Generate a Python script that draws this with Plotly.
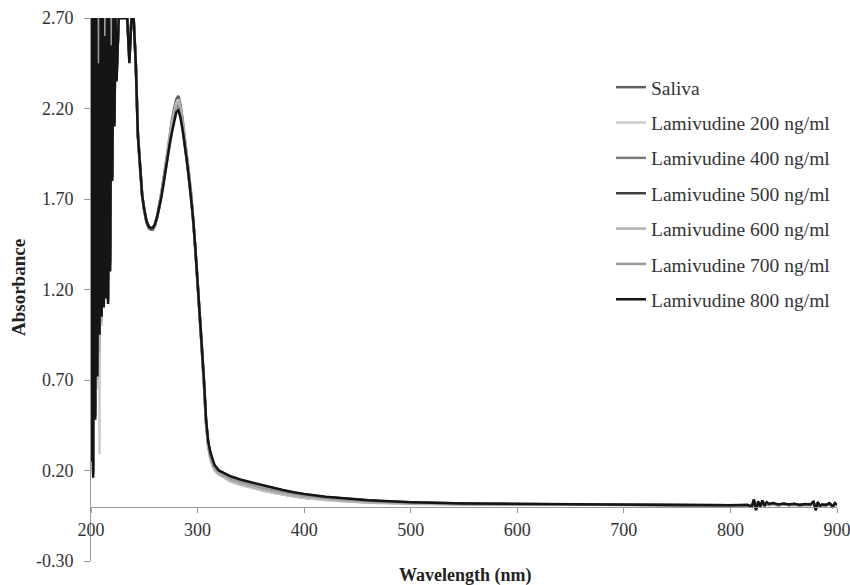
import plotly.graph_objects as go

# ---------------- data ----------------
wavelength = (list(range(200, 225)) +
              [226, 228, 230, 232, 234, 236, 238, 240] +
              list(range(242, 321, 2)) +
              [325, 330, 340, 350, 360, 370, 380, 390, 400, 420, 440, 460, 480, 500] +
              [550, 600, 650, 700, 750, 800] +
              [810, 816, 820, 822, 824, 826, 828, 830, 832, 834, 836, 840, 845, 850,
               855, 860, 865, 870, 875, 878, 880, 882, 884, 886, 890, 893, 896, 898, 900])

saliva = ([0.30, 2.70, 0.20, 2.60, 0.55, 2.70, 0.80, 2.70, 1.00, 2.50, 1.10, 2.70, 1.15, 2.70, 1.20, 2.65, 1.25, 2.70, 1.50, 2.70, 1.90, 2.60, 2.20, 2.70, 2.40] +
          [2.70, 2.70, 2.70, 2.70, 2.70, 2.50, 2.70, 2.70] +
          [2.47, 2.07, 1.86, 1.72, 1.63, 1.57, 1.54, 1.53, 1.53, 1.55,
           1.60, 1.66, 1.73, 1.81, 1.90, 1.99, 2.07, 2.14, 2.20, 2.25,
           2.27, 2.22, 2.14, 2.05, 1.95, 1.84, 1.73, 1.59, 1.42, 1.25,
           1.07, 0.88, 0.68, 0.46, 0.34, 0.27, 0.23, 0.205, 0.19, 0.18] +
          [0.165, 0.145, 0.125, 0.108, 0.093, 0.080, 0.068, 0.058, 0.050, 0.038, 0.030, 0.024, 0.020, 0.017] +
          [0.014, 0.012, 0.010, 0.009, 0.008, 0.007] +
          [0.007, 0.008, 0.004, 0.020, 0.000, 0.018, 0.004, 0.020, 0.006, 0.014, 0.010, 0.012, 0.008, 0.012,
           0.009, 0.011, 0.008, 0.010, 0.009, 0.018, 0.000, 0.016, 0.006, 0.009, 0.008, 0.013, 0.004, 0.012, 0.008])

lam200 = ([0.35, 2.70, 0.30, 2.70, 0.60, 2.70, 0.65, 2.70, 0.29, 2.70, 1.00, 2.70, 1.20, 2.70, 1.30, 2.70, 1.40, 2.70, 1.60, 2.70, 2.00, 2.70, 2.20, 2.70, 2.50] +
          [2.70, 2.70, 2.70, 2.70, 2.70, 2.55, 2.70, 2.70] +
          [2.46, 2.06, 1.86, 1.72, 1.64, 1.58, 1.55, 1.54, 1.54, 1.56,
           1.61, 1.66, 1.73, 1.80, 1.89, 1.97, 2.05, 2.12, 2.18, 2.23,
           2.25, 2.20, 2.12, 2.03, 1.93, 1.83, 1.72, 1.58, 1.42, 1.24,
           1.06, 0.87, 0.67, 0.45, 0.33, 0.27, 0.23, 0.20, 0.185, 0.175] +
          [0.160, 0.140, 0.120, 0.104, 0.090, 0.077, 0.066, 0.056, 0.048, 0.036, 0.028, 0.022, 0.018, 0.015] +
          [0.013, 0.011, 0.010, 0.009, 0.008, 0.007] +
          [0.007, 0.009, 0.003, 0.022, -0.004, 0.016, 0.003, 0.022, 0.005, 0.016, 0.010, 0.013, 0.009, 0.013,
           0.008, 0.012, 0.009, 0.011, 0.009, 0.020, -0.004, 0.018, 0.005, 0.010, 0.008, 0.014, 0.003, 0.013, 0.008])

lam400 = ([0.28, 2.70, 0.22, 2.70, 0.52, 2.55, 0.78, 2.70, 0.98, 2.70, 1.08, 2.60, 1.12, 2.70, 1.18, 2.70, 1.15, 2.70, 1.40, 2.70, 1.85, 2.70, 2.15, 2.70, 2.38] +
          [2.70, 2.70, 2.70, 2.70, 2.70, 2.48, 2.70, 2.70] +
          [2.44, 2.05, 1.85, 1.72, 1.64, 1.58, 1.55, 1.54, 1.54, 1.56,
           1.60, 1.66, 1.72, 1.80, 1.88, 1.96, 2.04, 2.10, 2.16, 2.21,
           2.23, 2.18, 2.11, 2.02, 1.92, 1.82, 1.71, 1.58, 1.42, 1.24,
           1.07, 0.88, 0.68, 0.46, 0.34, 0.28, 0.24, 0.21, 0.195, 0.185] +
          [0.170, 0.152, 0.132, 0.115, 0.100, 0.087, 0.075, 0.065, 0.056, 0.043, 0.034, 0.027, 0.022, 0.019] +
          [0.015, 0.013, 0.011, 0.009, 0.009, 0.008] +
          [0.008, 0.009, 0.002, 0.028, -0.008, 0.022, 0.002, 0.026, 0.005, 0.018, 0.012, 0.015, 0.010, 0.014,
           0.010, 0.013, 0.009, 0.012, 0.010, 0.022, -0.008, 0.020, 0.005, 0.011, 0.009, 0.016, 0.002, 0.015, 0.009])

lam500 = ([0.26, 2.70, 0.18, 2.70, 0.50, 2.70, 0.75, 2.50, 0.96, 2.70, 1.06, 2.70, 1.12, 2.65, 1.16, 2.70, 1.14, 2.70, 1.35, 2.60, 1.82, 2.70, 2.12, 2.70, 2.36] +
          [2.70, 2.70, 2.70, 2.70, 2.70, 2.46, 2.70, 2.70] +
          [2.45, 2.05, 1.85, 1.72, 1.64, 1.58, 1.55, 1.54, 1.54, 1.56,
           1.60, 1.65, 1.72, 1.79, 1.87, 1.95, 2.03, 2.09, 2.15, 2.20,
           2.22, 2.17, 2.10, 2.01, 1.92, 1.82, 1.71, 1.58, 1.42, 1.25,
           1.08, 0.89, 0.69, 0.47, 0.35, 0.29, 0.25, 0.225, 0.21, 0.20] +
          [0.183, 0.168, 0.148, 0.132, 0.117, 0.103, 0.090, 0.078, 0.068, 0.053, 0.043, 0.035, 0.029, 0.024] +
          [0.017, 0.014, 0.012, 0.010, 0.009, 0.008] +
          [0.008, 0.010, 0.001, 0.034, -0.014, 0.026, 0.001, 0.030, 0.005, 0.022, 0.014, 0.018, 0.011, 0.016,
           0.011, 0.015, 0.010, 0.014, 0.011, 0.026, -0.014, 0.022, 0.005, 0.012, 0.010, 0.018, 0.001, 0.018, 0.010])

lam600 = ([0.33, 2.70, 0.26, 2.65, 0.58, 2.70, 0.70, 2.70, 0.85, 2.70, 1.02, 2.70, 1.18, 2.70, 1.25, 2.70, 1.30, 2.65, 1.55, 2.70, 1.95, 2.70, 2.25, 2.70, 2.45] +
          [2.70, 2.70, 2.70, 2.70, 2.70, 2.52, 2.70, 2.70] +
          [2.46, 2.06, 1.85, 1.72, 1.63, 1.58, 1.55, 1.54, 1.54, 1.56,
           1.60, 1.66, 1.73, 1.80, 1.88, 1.97, 2.05, 2.11, 2.17, 2.22,
           2.24, 2.19, 2.12, 2.03, 1.93, 1.83, 1.72, 1.58, 1.42, 1.24,
           1.06, 0.87, 0.67, 0.45, 0.33, 0.27, 0.23, 0.205, 0.19, 0.18] +
          [0.165, 0.147, 0.127, 0.110, 0.095, 0.082, 0.070, 0.060, 0.052, 0.040, 0.031, 0.025, 0.021, 0.018] +
          [0.014, 0.012, 0.010, 0.009, 0.008, 0.007] +
          [0.007, 0.008, 0.003, 0.024, -0.006, 0.020, 0.003, 0.024, 0.005, 0.017, 0.011, 0.014, 0.009, 0.013,
           0.009, 0.012, 0.008, 0.011, 0.009, 0.021, -0.006, 0.019, 0.005, 0.010, 0.008, 0.015, 0.003, 0.014, 0.008])

lam700 = ([0.27, 2.70, 0.19, 2.70, 0.50, 2.70, 0.74, 2.70, 0.97, 2.55, 1.07, 2.70, 1.11, 2.70, 1.17, 2.60, 1.13, 2.70, 1.33, 2.70, 1.83, 2.65, 2.13, 2.70, 2.37] +
          [2.70, 2.70, 2.70, 2.70, 2.70, 2.47, 2.70, 2.70] +
          [2.45, 2.05, 1.85, 1.72, 1.64, 1.58, 1.55, 1.54, 1.54, 1.56,
           1.60, 1.65, 1.72, 1.79, 1.87, 1.95, 2.02, 2.08, 2.14, 2.19,
           2.21, 2.16, 2.09, 2.01, 1.91, 1.81, 1.71, 1.58, 1.42, 1.25,
           1.07, 0.89, 0.69, 0.47, 0.35, 0.28, 0.24, 0.215, 0.20, 0.19] +
          [0.175, 0.158, 0.138, 0.122, 0.107, 0.094, 0.082, 0.071, 0.062, 0.048, 0.038, 0.031, 0.026, 0.022] +
          [0.016, 0.013, 0.011, 0.010, 0.009, 0.008] +
          [0.008, 0.009, 0.001, 0.030, -0.010, 0.024, 0.001, 0.028, 0.005, 0.020, 0.013, 0.016, 0.010, 0.015,
           0.010, 0.014, 0.009, 0.013, 0.010, 0.024, -0.010, 0.021, 0.005, 0.011, 0.009, 0.017, 0.001, 0.016, 0.009])

lam800 = ([0.25, 2.70, 0.16, 2.70, 0.48, 2.70, 0.72, 2.45, 0.95, 2.70, 1.05, 2.70, 1.10, 2.60, 1.15, 2.70, 1.12, 2.70, 1.30, 2.55, 1.80, 2.70, 2.10, 2.70, 2.35] +
          [2.70, 2.70, 2.70, 2.70, 2.70, 2.45, 2.70, 2.70] +
          [2.45, 2.05, 1.85, 1.72, 1.64, 1.58, 1.55, 1.54, 1.54, 1.56,
           1.60, 1.65, 1.71, 1.78, 1.86, 1.94, 2.01, 2.07, 2.13, 2.18,
           2.19, 2.15, 2.08, 2.00, 1.91, 1.81, 1.71, 1.58, 1.42, 1.25,
           1.08, 0.90, 0.70, 0.48, 0.36, 0.30, 0.26, 0.23, 0.215, 0.20] +
          [0.185, 0.170, 0.150, 0.135, 0.120, 0.105, 0.092, 0.080, 0.070, 0.055, 0.045, 0.036, 0.030, 0.025] +
          [0.018, 0.015, 0.012, 0.010, 0.010, 0.008] +
          [0.008, 0.010, 0.000, 0.040, -0.020, 0.030, 0.000, 0.035, 0.005, 0.025, 0.015, 0.020, 0.012, 0.018,
           0.012, 0.016, 0.010, 0.015, 0.012, 0.030, -0.020, 0.025, 0.005, 0.012, 0.010, 0.020, 0.000, 0.020, 0.010])

series_names = ["Saliva", "Lamivudine 200 ng/ml", "Lamivudine 400 ng/ml", "Lamivudine 500 ng/ml",
                "Lamivudine 600 ng/ml", "Lamivudine 700 ng/ml", "Lamivudine 800 ng/ml"]
series_values = [saliva, lam200, lam400, lam500, lam600, lam700, lam800]
series_colors = ["#5e5e5e", "#cccccc", "#7a7a7a", "#3e3e3e", "#b2b2b2", "#9a9a9a", "#151515"]

y_ticks = [-0.30, 0.20, 0.70, 1.20, 1.70, 2.20, 2.70]
x_ticks = [200, 300, 400, 500, 600, 700, 800, 900]

# ---------------- figure ----------------
FONT = "Liberation Serif"
L, R, T, B = 91, 13, 18, 24
W, H = 850, 585
PW, PH = W - L - R, H - T - B

fig = go.Figure()
for i, (name, vals, col) in enumerate(zip(series_names, series_values, series_colors)):
    assert len(vals) == len(wavelength), (name, len(vals), len(wavelength))
    fig.add_trace(go.Scatter(
        x=wavelength, y=vals, name=name, mode="lines",
        line=dict(color=col, width=2.5),
        legendgroup=f"g{i}",
    ))

fig.update_layout(
    width=W, height=H,
    margin=dict(l=L, r=R, t=T, b=B, autoexpand=False),
    paper_bgcolor="white", plot_bgcolor="white",
    font=dict(family=FONT, size=18, color="#333333"),
    showlegend=True,
    legend=dict(
        x=(611 - L) / PW, y=(H - B - 68) / PH, xanchor="left", yanchor="top",
        font=dict(family=FONT, size=19.5, color="#333333"),
        tracegroupgap=7, itemwidth=30, bgcolor="rgba(0,0,0,0)",
    ),
    xaxis=dict(
        range=[200, 900], tickvals=x_ticks, ticktext=[str(v) for v in x_ticks],
        showline=True, linecolor="#9a9a9a", linewidth=1,
        ticks="outside", ticklen=5, tickcolor="#9a9a9a",
        showgrid=False, zeroline=False, automargin=False,
        anchor="free", position=0.1,
        ticklabelstandoff=2, ticklabeloverflow="allow",
        tickfont=dict(family=FONT, size=18, color="#333333"),
    ),
    yaxis=dict(
        range=[-0.30, 2.70], tickvals=y_ticks, ticktext=[f"{v:.2f}" for v in y_ticks],
        showline=True, linecolor="#9a9a9a", linewidth=1,
        ticks="outside", ticklen=6, tickcolor="#9a9a9a",
        showgrid=False, zeroline=False, automargin=False,
        ticklabelstandoff=7, ticklabeloverflow="allow",
        tickfont=dict(family=FONT, size=18, color="#333333"),
    ),
    annotations=[
        dict(text="<b>Wavelength (nm)</b>", xref="paper", yref="paper",
             x=(465 - L) / PW, y=-(575 - (H - B)) / PH, xanchor="center", yanchor="middle",
             showarrow=False, font=dict(family=FONT, size=18, color="#222222")),
        dict(text="<b>Absorbance</b>", xref="paper", yref="paper",
             x=-(L - 18) / PW, y=(H - B - 288) / PH, xanchor="center", yanchor="middle",
             textangle=-90, showarrow=False, font=dict(family=FONT, size=19, color="#222222")),
    ],
)

fig.write_html(
    "out.html",
    config={"displayModeBar": False},
    post_script="document.body.style.margin='0';document.body.style.overflow='hidden';",
)
